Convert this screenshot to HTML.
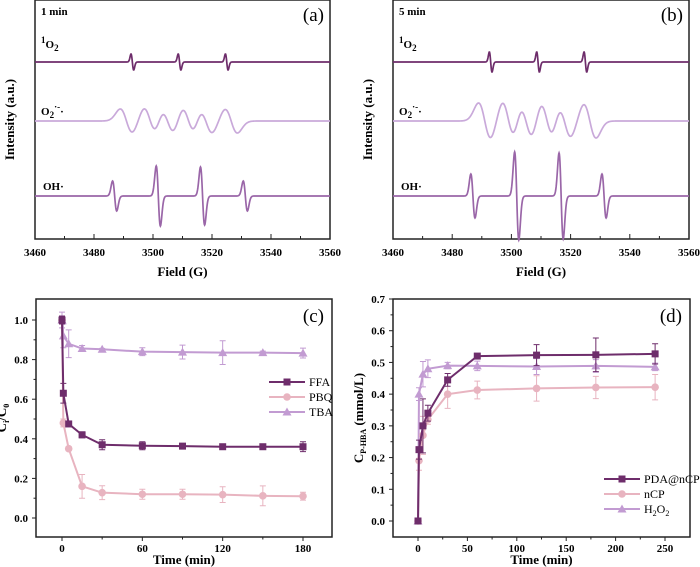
<!DOCTYPE html>
<html><head><meta charset="utf-8"><style>
html,body{margin:0;padding:0;background:#fff;width:700px;height:567px;overflow:hidden}
svg{display:block;font-family:"Liberation Serif",serif}
.t{font-size:11px;font-weight:bold}
.ti{font-size:13px;font-weight:bold}
</style></head><body>
<svg id="s" width="700" height="567" viewBox="0 0 700 567"></svg>
<script>
// ===== EPR data (a) 1 min, (b) 5 min =====
const eprFieldTicks=[3460,3480,3500,3520,3540,3560];
const o2sCenters=[3493,3509,3525];
const o2sAmpA=[8,8,8];
const o2sAmpB=[10,10,10];
const supCenters=[3491,3499,3505,3512,3518,3526.5];
const supAmpA=[12,13,12,13,12,12];
const supAmpB=[18,19,17,18,16,17];
const ohCenters=[3487,3501.8,3516.8,3531.3];
const ohAmpA=[15,30,29,15];
const ohAmpB=[22,44,43,22];
// ===== (c) scavenger data =====
const cTime=[0,1,5,15,30,60,90,120,150,180];
const cFFA=[1.0,0.63,0.475,0.42,0.37,0.365,0.363,0.36,0.36,0.36];
const cFFAerr=[0.02,0.05,0.01,0.015,0.025,0.02,0.01,0.01,0.01,0.025];
const cPBQ=[1.0,0.48,0.35,0.16,0.128,0.12,0.12,0.118,0.112,0.11];
const cPBQerr=[0.02,0.02,0.01,0.06,0.035,0.025,0.025,0.04,0.05,0.02];
const cTBA=[1.0,0.92,0.88,0.856,0.852,0.84,0.838,0.835,0.835,0.833];
const cTBAerr=[0.04,0.06,0.07,0.015,0.005,0.02,0.035,0.06,0.008,0.025];
const cXTicks=[0,60,120,180];
const cYTicks=[0.0,0.2,0.4,0.6,0.8,1.0];
// ===== (d) p-HBA data =====
const dTime=[0,1,5,10,30,60,120,180,240];
const dPDA=[0,0.225,0.3,0.34,0.445,0.52,0.523,0.524,0.527];
const dPDAerr=[0,0.03,0.085,0.025,0.02,0.005,0.033,0.053,0.032];
const dNCP=[0,0.19,0.27,0.32,0.40,0.413,0.418,0.421,0.422];
const dNCPerr=[0,0.03,0.06,0.015,0.045,0.028,0.04,0.035,0.04];
const dH2O2=[0,0.40,0.463,0.48,0.49,0.489,0.487,0.489,0.486];
const dH2O2err=[0,0.02,0.04,0.028,0.01,0.015,0.025,0.02,0.012];
const dXTicks=[0,50,100,150,200,250];
const dYTicks=[0.0,0.1,0.2,0.3,0.4,0.5,0.6,0.7];

const S=document.getElementById('s');const NS='http://www.w3.org/2000/svg';
function el(tag,at,txt){const e=document.createElementNS(NS,tag);for(const k in at)e.setAttribute(k,at[k]);if(txt!==undefined)e.innerHTML=txt;S.appendChild(e);return e;}
function lin(d0,d1,r0,r1){return v=>r0+(v-d0)/(d1-d0)*(r1-r0);}
const C1='#6e2d6b',C2='#e8b4c0',C3='#c29bd2',COH='#9a66a8',CSUP='#c9a9da';

function eprPanel(L,R,tag,lbl,aO,aS,aH){
  const T=0,B=239;const x=lin(3460,3560,L,R);
  const fr=el('rect',{x:L,y:T,width:R-L,height:B-T,fill:'none',stroke:'#222','stroke-width':1.5});
  
  for(let v=3460;v<=3560;v+=10){const l=el('line',{x1:x(v),x2:x(v),y1:B,y2:B-(v%20==0?5:3),stroke:'#222','stroke-width':1});}
  eprFieldTicks.forEach(v=>{const t=el('text',{x:x(v),y:256,'text-anchor':'middle',class:'t'},v);});
  const xt=el('text',{x:(L+R)/2,y:276,'text-anchor':'middle',class:'ti'},'Field (G)');
  const yt=el('text',{x:0,y:0,'text-anchor':'middle',class:'ti',transform:`translate(${L-21},${(T+B)/2}) rotate(-90)`},'Intensity (a.u.)');
  const pl=el('text',{x:R-6,y:21,'text-anchor':'end','font-size':'19px'},'('+tag+')');
  const tl=el('text',{x:L+6,y:15,class:'t','font-size':'13px'},lbl);
  function trace(base,cs,amps,w,col,name){
    let d='';for(let v=3460;v<=3560;v+=0.1){let y=0;cs.forEach((c,i)=>{const u=(v-c)/w;y+=-amps[i]*u*Math.exp(0.5-u*u/2);});
      d+=(d?'L':'M')+x(v).toFixed(2)+','+(base-y).toFixed(2);}
    const p=el('path',{d:d,fill:'none',stroke:col,'stroke-width':1.7});
  }
  trace(62,o2sCenters,aO,0.45,C1,'singlet-oxygen');
  trace(121,supCenters,aS,2.1,CSUP,'superoxide');
  trace(196,ohCenters,aH,0.7,COH,'hydroxyl');
  const l1=el('text',{x:L+6,y:48,class:'t','font-size':'13px'},'<tspan font-size="9" dy="-5">1</tspan><tspan dy="5">O</tspan><tspan font-size="9" dy="3">2</tspan>');
  const l2=el('text',{x:L+6,y:115,class:'t','font-size':'13px'},'O<tspan font-size="9" dy="3">2</tspan><tspan font-size="9" dy="-8">·-</tspan><tspan dy="5">·</tspan>');
  const l3=el('text',{x:L+8,y:190,class:'t','font-size':'13px'},'OH·');
}
eprPanel(35,330,'a','1 min',o2sAmpA,supAmpA,ohAmpA);
eprPanel(393,689,'b','5 min',o2sAmpB,supAmpB,ohAmpB);

function marker(kind,cx,cy,col,name){let m;
  if(kind=='s')m=el('rect',{x:cx-3.5,y:cy-3.5,width:7,height:7,fill:col});
  else if(kind=='c')m=el('circle',{cx:cx,cy:cy,r:3.8,fill:col});
  else m=el('path',{d:`M${cx},${cy-4.5}L${cx+4.5},${cy+3.5}L${cx-4.5},${cy+3.5}Z`,fill:col});
  }
function series(x,y,ts,vs,es,col,kind,name){
  ts.forEach((t,i)=>{if(es[i]>0){const e=el('path',{d:`M${x(t)},${y(vs[i]-es[i])}V${y(vs[i]+es[i])}M${x(t)-3},${y(vs[i]-es[i])}h6M${x(t)-3},${y(vs[i]+es[i])}h6`,stroke:col,'stroke-width':1,fill:'none'});}});
  const p=el('path',{d:ts.map((t,i)=>(i?'L':'M')+x(t)+','+y(vs[i])).join(''),fill:'none',stroke:col,'stroke-width':2});
  
  ts.forEach((t,i)=>marker(kind,x(t),y(vs[i]),col,name+'-point'));
}
function frame(L,R,T,B,tag,xt,yt,xTicks,yTicks,x,y,xMinor,yMinor){
  const f=el('rect',{x:L,y:T,width:R-L,height:B-T,fill:'none',stroke:'#222','stroke-width':1.5});
  xTicks.forEach(v=>{const l=el('line',{x1:x(v),x2:x(v),y1:B,y2:B+4,stroke:'#222'});
    const t=el('text',{x:x(v),y:B+15,'text-anchor':'middle',class:'t'},v);});
  xMinor.forEach(v=>{const l=el('line',{x1:x(v),x2:x(v),y1:B,y2:B+2.5,stroke:'#222'});});
  yTicks.forEach(v=>{const l=el('line',{x1:L,x2:L-4,y1:y(v),y2:y(v),stroke:'#222'});
    const t=el('text',{x:L-8,y:y(v)+4,'text-anchor':'end',class:'t'},v.toFixed(1));});
  yMinor.forEach(v=>{const l=el('line',{x1:L,x2:L-2.5,y1:y(v),y2:y(v),stroke:'#222'});});
  const a=el('text',{x:(L+R)/2,y:B+27,'text-anchor':'middle',class:'ti'},xt);
  const b=el('text',{x:0,y:0,'text-anchor':'middle',class:'ti',transform:`translate(${L-30},${(T+B)/2}) rotate(-90)`},yt);
  const p=el('text',{x:R-8,y:T+23,'text-anchor':'end','font-size':'19px'},'('+tag+')');
}
function legend(x0,y0,items){items.forEach((it,i)=>{const y=y0+i*15;
  const l=el('line',{x1:x0,x2:x0+36,y1:y,y2:y,stroke:it[1],'stroke-width':2});
  marker(it[2],x0+18,y,it[1],'legend-marker');
  const t=el('text',{x:x0+40,y:y+4,'font-size':'12px'},it[0]);});}

// (c)
{const L=36,R=332,T=299,B=537;const x=lin(0,180,62,303),y=lin(0,1,518,320);
 frame(L,R,T,B,'c','Time (min)','C<tspan font-size="8" dy="3">i</tspan><tspan dy="-3">/C</tspan><tspan font-size="8" dy="3">0</tspan>',cXTicks,cYTicks,x,y,[30,90,150],[0.1,0.3,0.5,0.7,0.9]);
 series(x,y,cTime,cTBA,cTBAerr,C3,'t','tba');
 series(x,y,cTime,cPBQ,cPBQerr,C2,'c','pbq');
 series(x,y,cTime,cFFA,cFFAerr,C1,'s','ffa');
 legend(269,382,[['FFA',C1,'s'],['PBQ',C2,'c'],['TBA',C3,'t']]);}
// (d)
{const L=393,R=690,T=299,B=537;const x=lin(0,250,418,665),y=lin(0,0.7,521,299);
 frame(L,R,T,B,'d','Time (min)','C<tspan font-size="8" dy="3">P-HBA</tspan><tspan dy="-3"> (mmol/L)</tspan>',dXTicks,dYTicks,x,y,[25,75,125,175,225],[0.05,0.15,0.25,0.35,0.45,0.55,0.65]);
 series(x,y,dTime,dH2O2,dH2O2err,C3,'t','h2o2');
 series(x,y,dTime,dNCP,dNCPerr,C2,'c','ncp');
 series(x,y,dTime,dPDA,dPDAerr,C1,'s','pda-ncp');
 legend(604,479,[['PDA@nCP',C1,'s'],['nCP',C2,'c'],['H<tspan font-size="8" dy="3">2</tspan><tspan dy="-3">O</tspan><tspan font-size="8" dy="3">2</tspan>',C3,'t']]);}
</script>
</body></html>
